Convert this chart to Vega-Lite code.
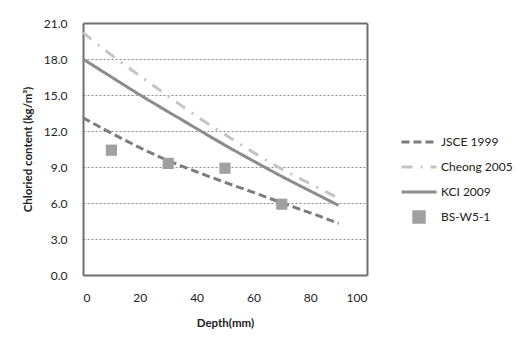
{
  "$schema": "https://vega.github.io/schema/vega-lite/v6.json",
  "width": 284,
  "height": 252,
  "autosize": "none",
  "padding": {"left": 83, "top": 23, "right": 161, "bottom": 75},
  "background": "white",
  "config": {
    "font": "Lato",
    "view": {"stroke": null},
    "axis": {"labelFont": "Lato", "titleFont": "Lato", "labelColor": "#222", "titleColor": "#222", "ticks": false}
  },
  "resolve": {"axis": {"x": "independent", "y": "independent"}},
  "datasets": {
    "curves": [
      {"series": "JSCE 1999", "depth": 0, "cl": 13.1},
      {"series": "JSCE 1999", "depth": 10, "cl": 11.8},
      {"series": "JSCE 1999", "depth": 20, "cl": 10.6},
      {"series": "JSCE 1999", "depth": 30, "cl": 9.5},
      {"series": "JSCE 1999", "depth": 40, "cl": 8.6},
      {"series": "JSCE 1999", "depth": 50, "cl": 7.7},
      {"series": "JSCE 1999", "depth": 60, "cl": 6.9},
      {"series": "JSCE 1999", "depth": 70, "cl": 6.0},
      {"series": "JSCE 1999", "depth": 80, "cl": 5.2},
      {"series": "JSCE 1999", "depth": 90, "cl": 4.3},
      {"series": "Cheong 2005", "depth": 0, "cl": 20.2},
      {"series": "Cheong 2005", "depth": 10, "cl": 18.3},
      {"series": "Cheong 2005", "depth": 20, "cl": 16.6},
      {"series": "Cheong 2005", "depth": 30, "cl": 14.9},
      {"series": "Cheong 2005", "depth": 40, "cl": 13.2},
      {"series": "Cheong 2005", "depth": 50, "cl": 11.7},
      {"series": "Cheong 2005", "depth": 60, "cl": 10.2},
      {"series": "Cheong 2005", "depth": 70, "cl": 8.8},
      {"series": "Cheong 2005", "depth": 80, "cl": 7.6},
      {"series": "Cheong 2005", "depth": 90, "cl": 6.4},
      {"series": "KCI 2009", "depth": 0, "cl": 18.0},
      {"series": "KCI 2009", "depth": 10, "cl": 16.5},
      {"series": "KCI 2009", "depth": 20, "cl": 15.0},
      {"series": "KCI 2009", "depth": 30, "cl": 13.6},
      {"series": "KCI 2009", "depth": 40, "cl": 12.2},
      {"series": "KCI 2009", "depth": 50, "cl": 10.8},
      {"series": "KCI 2009", "depth": 60, "cl": 9.5},
      {"series": "KCI 2009", "depth": 70, "cl": 8.2},
      {"series": "KCI 2009", "depth": 80, "cl": 7.0},
      {"series": "KCI 2009", "depth": 90, "cl": 5.8}
    ],
    "measured": [
      {"series": "BS-W5-1", "depth": 10, "cl": 10.4},
      {"series": "BS-W5-1", "depth": 30, "cl": 9.3},
      {"series": "BS-W5-1", "depth": 50, "cl": 8.9},
      {"series": "BS-W5-1", "depth": 70, "cl": 5.9}
    ]
  },
  "layer": [
    {
      "data": {"name": "curves"},
      "mark": {"type": "line", "strokeWidth": 3, "interpolate": "basis"},
      "encoding": {
        "x": {
          "field": "depth", "type": "quantitative",
          "scale": {"domain": [0, 100], "nice": false},
          "axis": {"orient": "bottom", "values": [0, 20, 40, 60, 80, 100], "grid": false, "domain": true, "domainColor": "#6e6e6e", "domainWidth": 2, "labelFontSize": 12, "labelPadding": 17, "title": "Depth(mm)", "titleFontSize": 11.5, "titleFontWeight": "bold", "titlePadding": 14}
        },
        "y": {
          "field": "cl", "type": "quantitative",
          "scale": {"domain": [0, 21], "nice": false},
          "axis": {"orient": "left", "values": [0, 3, 6, 9, 12, 15, 18, 21], "tickCount": 8, "labelOverlap": false, "format": ".1f", "domain": true, "domainColor": "#6e6e6e", "domainWidth": 2, "labelFontSize": 12, "labelPadding": 16, "grid": true, "gridColor": "#8a8a8a", "gridDash": [2, 2], "gridWidth": 1, "title": "Chloried content (kg/m³)", "titleFontSize": 11.5, "titleFontWeight": "bold", "titlePadding": 10}
        },
        "color": {
          "field": "series", "type": "nominal",
          "scale": {"domain": ["JSCE 1999", "Cheong 2005", "KCI 2009", "BS-W5-1"], "range": ["#7c7c7c", "#c4c4c4", "#8c8c8c", "#a0a0a0"]},
          "legend": {
            "title": null, "orient": "none", "legendX": 317, "legendY": 100,
            "symbolSize": 1225, "symbolStrokeWidth": 3, "rowPadding": -9,
            "labelFontSize": 12, "labelColor": "#222", "labelOffset": 3,
            "encode": {
              "symbols": {
                "update": {
                  "shape": {"signal": "datum.label === 'BS-W5-1' ? 'square' : 'stroke'"},
                  "size": {"signal": "datum.label === 'BS-W5-1' ? 110 : 1225"},
                  "fill": {"signal": "datum.label === 'BS-W5-1' ? '#a0a0a0' : 'transparent'"},
                  "stroke": {"signal": "datum.label === 'JSCE 1999' ? '#7c7c7c' : datum.label === 'Cheong 2005' ? '#c4c4c4' : datum.label === 'KCI 2009' ? '#8c8c8c' : 'transparent'"},
                  "strokeDash": {"signal": "datum.label === 'JSCE 1999' ? [8, 4] : datum.label === 'Cheong 2005' ? [11, 8, 2, 8] : [1, 0]"},
                  "strokeWidth": {"value": 3},
                  "opacity": {"value": 1}
                }
              }
            }
          }
        },
        "strokeDash": {
          "field": "series", "type": "nominal",
          "scale": {"domain": ["JSCE 1999", "Cheong 2005", "KCI 2009"], "range": [[8, 4], [11, 8, 2, 8], [1, 0]]},
          "legend": null
        }
      }
    },
    {
      "data": {"name": "measured"},
      "mark": {"type": "point", "shape": "square", "filled": true, "size": 125, "opacity": 1},
      "encoding": {
        "x": {"field": "depth", "type": "quantitative", "axis": {"orient": "top", "labels": false, "title": null, "grid": false, "ticks": false, "domain": true, "domainColor": "#6e6e6e", "domainWidth": 2}},
        "y": {"field": "cl", "type": "quantitative", "axis": {"orient": "right", "labels": false, "title": null, "grid": false, "ticks": false, "domain": true, "domainColor": "#6e6e6e", "domainWidth": 2}},
        "color": {"field": "series", "type": "nominal"}
      }
    }
  ]
}
